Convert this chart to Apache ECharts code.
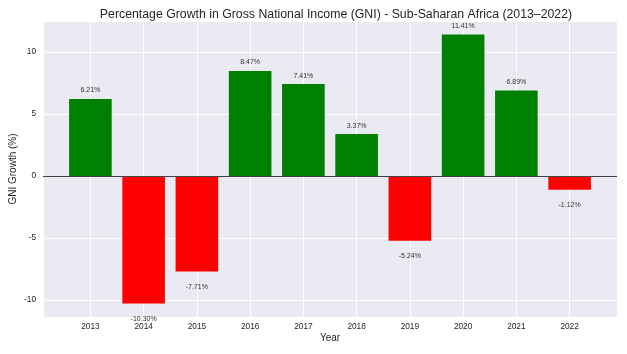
<!DOCTYPE html>
<html>
<head>
<meta charset="utf-8">
<script src="https://cdn.jsdelivr.net/npm/echarts@6/dist/echarts.min.js"></script>
<style>
  html, body { margin: 0; padding: 0; background: #fff; }
  #chart { width: 627px; height: 354px; }
</style>
</head>
<body>
<div id="chart"></div>
<script>
// data
var years = ['2013', '2014', '2015', '2016', '2017', '2018', '2019', '2020', '2021', '2022'];
var growth = [6.21, -10.30, -7.71, 8.47, 7.41, 3.37, -5.24, 11.41, 6.89, -1.12];

var chart = echarts.init(document.getElementById('chart'));

var gridLeft = 43, gridRight = 10;
var xMin = -0.89, xMax = 9.89;
var plotW = 627 - gridLeft - gridRight;
var barW = 0.8 * plotW / (xMax - xMin);

var font = 'Liberation Sans, Arial, sans-serif';

var option = {
    backgroundColor: '#ffffff',
    title: {
        text: 'Percentage Growth in Gross National Income (GNI) - Sub-Saharan Africa (2013\u20132022)',
        left: 331,
        textAlign: 'center',
        top: 4,
        textStyle: { fontFamily: font, fontSize: 12.3, fontWeight: 'normal', color: '#262626' }
    },
    grid: {
        left: gridLeft, right: gridRight, top: 21, bottom: 37,
        outerBoundsMode: 'none',
        containLabel: false,
        show: true, backgroundColor: '#eaeaf2', borderWidth: 0
    },
    xAxis: {
        type: 'value',
        min: xMin,
        max: xMax,
        splitNumber: 10,
        name: 'Year',
        nameLocation: 'middle',
        nameGap: 16,
        nameMoveOverlap: false,
        nameTextStyle: { fontFamily: font, fontSize: 10, color: '#262626' },
        axisLine: { show: false },
        axisTick: { show: false },
        axisLabel: {
            fontFamily: font, fontSize: 8.3, color: '#262626', margin: 6,
            showMinLabel: false, showMaxLabel: false,
            formatter: function (v) {
                return (Math.abs(v - Math.round(v)) < 1e-6 && years[Math.round(v)]) ? years[Math.round(v)] : '';
            }
        },
        splitLine: { show: true, lineStyle: { color: '#ffffff', width: 1 } }
    },
    yAxis: {
        type: 'value',
        min: -11.39,
        max: 12.5,
        splitNumber: 5,
        name: 'GNI Growth (%)',
        nameLocation: 'middle',
        nameGap: 25,
        nameMoveOverlap: false,
        nameTextStyle: { fontFamily: font, fontSize: 10, color: '#262626' },
        axisLine: { show: false },
        axisTick: { show: false },
        axisLabel: {
            fontFamily: font, fontSize: 8.3, color: '#262626', margin: 7,
            showMinLabel: false, showMaxLabel: false,
            formatter: function (v) {
                return (Math.abs(v % 5) < 1e-6) ? String(v) : '';
            }
        },
        splitLine: { show: true, lineStyle: { color: '#ffffff', width: 1 } }
    },
    series: [{
        type: 'bar',
        barWidth: barW,
        data: growth.map(function (v, i) {
            return {
                value: [i, v],
                itemStyle: { color: v >= 0 ? '#008000' : '#ff0000' },
                label: {
                    show: true,
                    position: v >= 0 ? 'top' : 'bottom',
                    distance: v >= 0 ? 5 : 12,
                    formatter: v.toFixed(2) + '%',
                    fontFamily: font, fontSize: 7, color: '#333333'
                }
            };
        }),
        markLine: {
            silent: true,
            symbol: 'none',
            label: { show: false },
            lineStyle: { color: '#444444', width: 1, type: 'solid' },
            data: [{ yAxis: 0 }]
        }
    }]
};

chart.setOption(option);
</script>
</body>
</html>
